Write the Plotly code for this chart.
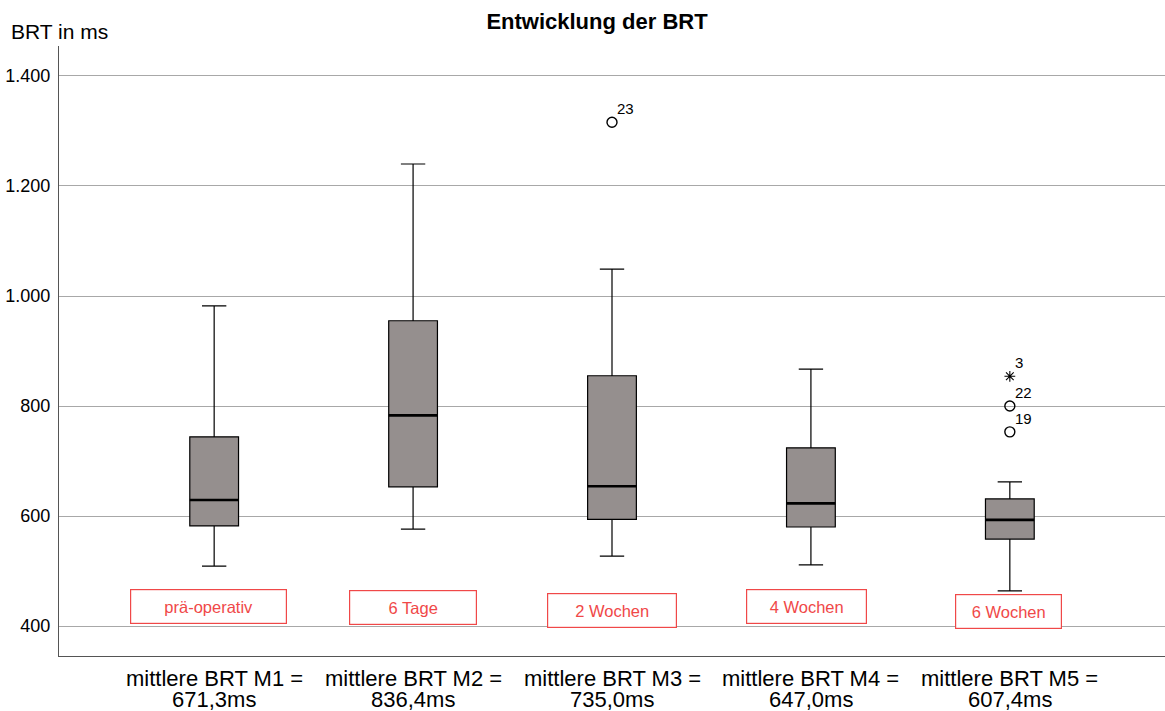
import plotly.graph_objects as go

group_line1 = ["mittlere BRT M1 =", "mittlere BRT M2 =", "mittlere BRT M3 =",
               "mittlere BRT M4 =", "mittlere BRT M5 ="]
group_line2 = ["671,3ms", "836,4ms", "735,0ms", "647,0ms", "607,4ms"]
phase_labels = ["prä-operativ", "6 Tage", "2 Wochen", "4 Wochen", "6 Wochen"]
phase_label_y = [435, 433, 429, 435, 426]
phase_label_dx = [-0.03, 0.0, 0.0, -0.02, -0.005]
phase_label_w = [155, 126, 128, 119, 105]

lower = [509, 576, 527, 511, 464]
q1 = [582, 653, 594, 580, 558]
median = [629, 783, 654, 623, 593]
q3 = [744, 955, 855, 724, 631]
upper = [982, 1240, 1049, 867, 662]

# outliers: group index, value, case id, kind
out_group = [2, 4, 4, 4]
out_value = [1316, 854, 800, 753]
out_id = ["23", "3", "22", "19"]
out_kind = ["circle", "star", "circle", "circle"]

yticks = [400, 600, 800, 1000, 1200, 1400]
yticktext = ["400", "600", "800", "1.000", "1.200", "1.400"]

FONT = "Liberation Sans, Arial, sans-serif"
BOXW = 0.245
W, H = 1165, 711
ML, MR, MT, MB = 59, 0, 46, 55
PW, PH = W - ML - MR, H - MT - MB


def px_to_paper_x(px):
    return (px - ML) / PW


def px_to_paper_y(py):
    return (H - MB - py) / PH


fig = go.Figure()
for i in range(len(group_line1)):
    fig.add_trace(go.Box(
        x=[i], q1=[q1[i]], median=[median[i]], q3=[q3[i]],
        lowerfence=[lower[i]], upperfence=[upper[i]],
        width=BOXW, whiskerwidth=0.5,
        fillcolor="#958f8e", line=dict(color="black", width=1.2),
        boxpoints=False, showlegend=False, hoverinfo="skip"))
    fig.add_trace(go.Scatter(
        x=[i - BOXW / 2, i + BOXW / 2], y=[median[i], median[i]],
        mode="lines", line=dict(color="black", width=2.6),
        showlegend=False, hoverinfo="skip"))

circ_x = [out_group[k] for k in range(len(out_value)) if out_kind[k] == "circle"]
circ_y = [out_value[k] for k in range(len(out_value)) if out_kind[k] == "circle"]
star_x = [out_group[k] for k in range(len(out_value)) if out_kind[k] == "star"]
star_y = [out_value[k] for k in range(len(out_value)) if out_kind[k] == "star"]
fig.add_trace(go.Scatter(x=circ_x, y=circ_y, mode="markers",
                         marker=dict(symbol="circle-open", size=10,
                                     color="black", line=dict(width=1.4)),
                         showlegend=False, hoverinfo="skip"))
fig.add_trace(go.Scatter(x=star_x, y=star_y, mode="markers",
                         marker=dict(symbol="asterisk-open", size=9,
                                     color="black", line=dict(width=1.1)),
                         showlegend=False, hoverinfo="skip"))

for k in range(len(out_value)):
    fig.add_annotation(x=out_group[k], y=out_value[k], text=out_id[k],
                       showarrow=False, xanchor="left", yanchor="bottom",
                       xshift=3, yshift=3,
                       font=dict(family=FONT, size=15, color="black"))

for i in range(len(phase_labels)):
    fig.add_annotation(x=i + phase_label_dx[i], y=phase_label_y[i], text=phase_labels[i],
                       showarrow=False, xanchor="center", yanchor="middle",
                       width=phase_label_w[i] - 2, height=31,
                       bordercolor="#f04848", borderwidth=1.2, bgcolor="white",
                       font=dict(family=FONT, size=16.5, color="#f04848"))

for i in range(len(group_line1)):
    fig.add_annotation(x=i, y=px_to_paper_y(678), xref="x", yref="paper",
                       text=group_line1[i], showarrow=False,
                       xanchor="center", yanchor="middle",
                       font=dict(family=FONT, size=22, color="black"))
    fig.add_annotation(x=i, y=px_to_paper_y(699.5), xref="x", yref="paper",
                       text=group_line2[i], showarrow=False,
                       xanchor="center", yanchor="middle",
                       font=dict(family=FONT, size=22, color="black"))

fig.add_annotation(x=px_to_paper_x(9), y=px_to_paper_y(31), xref="paper", yref="paper",
                   text="BRT in ms", showarrow=False, xanchor="left", yanchor="middle",
                   font=dict(family=FONT, size=21, color="black"))

fig.update_layout(
    width=W, height=H,
    margin=dict(l=ML, r=MR, t=MT, b=MB, pad=0),
    paper_bgcolor="white", plot_bgcolor="white",
    font=dict(family=FONT, size=16, color="black"),
    title=dict(text="<b>Entwicklung der BRT</b>", x=597 / W, xanchor="center",
               y=1 - 21 / H, yanchor="middle",
               font=dict(family=FONT, size=22, color="black")),
    xaxis=dict(range=[-0.78, 4.78], tickvals=list(range(len(group_line1))),
               ticktext=[""] * len(group_line1), showgrid=False, zeroline=False,
               showline=True, linecolor="#555555", linewidth=1.3,
               ticks="", automargin=False),
    yaxis=dict(range=[345.5, 1454.5], tickvals=yticks, ticktext=yticktext,
               showgrid=True, gridcolor="#a8a8a8", gridwidth=1.2,
               zeroline=False, showline=True, linecolor="#555555", linewidth=1.3,
               ticks="outside", ticklen=4, tickcolor="rgba(0,0,0,0)",
               tickfont=dict(family=FONT, size=18, color="black"),
               automargin=False),
)

fig.write_html("out.html", config={"displayModeBar": False},
               post_script="document.body.style.margin='0';document.body.style.padding='0';")
